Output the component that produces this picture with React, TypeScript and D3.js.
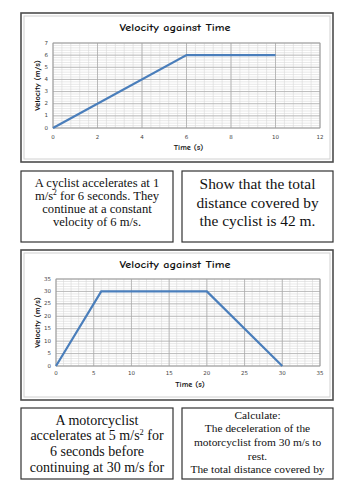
import React from "react";
import * as d3 from "d3";

// cyclist graph
const cyclistTimes = [0, 6, 10];
const cyclistVelocity = [0, 6, 6];
const cyclistXTicks = [0, 2, 4, 6, 8, 10, 12];
const cyclistYTicks = [0, 1, 2, 3, 4, 5, 6, 7];

// motorcyclist graph
const motoTimes = [0, 6, 20, 30];
const motoVelocity = [0, 30, 30, 0];
const motoXTicks = [0, 5, 10, 15, 20, 25, 30, 35];
const motoYTicks = [0, 5, 10, 15, 20, 25, 30, 35];

const chartTitle = "Velocity against Time";
const xTitle = "Time (s)";
const yTitle = "Velocity (m/s)";

const comic = "'Comic Sans MS', 'Comic Neue', 'DejaVu Sans', sans-serif";
const serif = "'Liberation Serif', 'Times New Roman', serif";

type ChartProps = {
  frame: { x: number; y: number; w: number; h: number };
  plot: { left: number; right: number; top: number; bottom: number };
  times: number[];
  velocity: number[];
  xTicks: number[];
  yTicks: number[];
  xMinor: number;
  yMinor: number;
  xMajor: number;
  titleY: number;
  xTickY: number;
  xTitleY: number;
};

function Chart(p: ChartProps) {
  const x = d3
    .scaleLinear()
    .domain([0, d3.max(p.xTicks)!])
    .range([p.plot.left, p.plot.right]);
  const y = d3
    .scaleLinear()
    .domain([0, d3.max(p.yTicks)!])
    .range([p.plot.bottom, p.plot.top]);

  const xMax = d3.max(p.xTicks)!;
  const yMax = d3.max(p.yTicks)!;
  const xMinorLines = d3.range(0, xMax + 1e-6, p.xMinor);
  const yMinorLines = d3.range(0, yMax + 1e-6, p.yMinor);
  const xMajorLines = d3.range(0, xMax + 1e-6, p.xMajor);

  const line = d3
    .line<number>()
    .x((d) => x(p.times[d]))
    .y((d) => y(p.velocity[d]));

  const cx = (p.frame.x * 2 + p.frame.w) / 2;
  const midY = (p.plot.top + p.plot.bottom) / 2;

  return (
    <g>
      <rect
        x={p.frame.x}
        y={p.frame.y}
        width={p.frame.w}
        height={p.frame.h}
        fill="#fff"
        stroke="#4d4d4d"
        strokeWidth={1.6}
      />
      <rect
        x={p.frame.x + 3}
        y={p.frame.y + 3}
        width={p.frame.w - 6}
        height={p.frame.h - 6}
        fill="none"
        stroke="#d0d0d0"
        strokeWidth={1}
      />
      <text
        x={cx - 2}
        y={p.titleY}
        textAnchor="middle"
        dominantBaseline="middle"
        fontFamily={comic}
        fontWeight="bold"
        fontSize={10}
        textLength={111}
        lengthAdjust="spacingAndGlyphs"
        fill="#111"
      >
        {chartTitle}
      </text>
      {yMinorLines.map((v, i) => (
        <line
          key={"ym" + i}
          x1={p.plot.left}
          x2={p.plot.right}
          y1={y(v)}
          y2={y(v)}
          stroke="#d6d6d6"
          strokeWidth={0.6}
        />
      ))}
      {xMinorLines.map((v, i) => (
        <line
          key={"xm" + i}
          x1={x(v)}
          x2={x(v)}
          y1={p.plot.top}
          y2={p.plot.bottom}
          stroke="#d6d6d6"
          strokeWidth={0.6}
        />
      ))}
      {p.yTicks.map((v) => (
        <line
          key={"yM" + v}
          x1={p.plot.left}
          x2={p.plot.right}
          y1={y(v)}
          y2={y(v)}
          stroke="#a8a8a8"
          strokeWidth={0.7}
        />
      ))}
      {xMajorLines.map((v) => (
        <line
          key={"xM" + v}
          x1={x(v)}
          x2={x(v)}
          y1={p.plot.top}
          y2={p.plot.bottom}
          stroke="#a8a8a8"
          strokeWidth={0.7}
        />
      ))}
      <rect
        x={p.plot.left}
        y={p.plot.top}
        width={p.plot.right - p.plot.left}
        height={p.plot.bottom - p.plot.top}
        fill="none"
        stroke="#999"
        strokeWidth={0.7}
      />
      <path
        d={line(d3.range(p.times.length)) || ""}
        fill="none"
        stroke="#4a7ebb"
        strokeWidth={2.2}
        strokeLinejoin="miter"
      />
      {p.xTicks.map((v) => (
        <text
          key={"xt" + v}
          x={x(v)}
          y={p.xTickY}
          textAnchor="middle"
          dominantBaseline="middle"
          fontFamily="'DejaVu Sans', sans-serif"
          fontSize={5.5}
          fill="#444"
        >
          {v}
        </text>
      ))}
      {p.yTicks.map((v) => (
        <text
          key={"yt" + v}
          x={p.plot.left - 5}
          y={y(v)}
          textAnchor="end"
          dominantBaseline="middle"
          fontFamily="'DejaVu Sans', sans-serif"
          fontSize={5.5}
          fill="#444"
        >
          {v}
        </text>
      ))}
      <text
        x={(p.plot.left + p.plot.right) / 2 + 2}
        y={p.xTitleY}
        textAnchor="middle"
        dominantBaseline="middle"
        fontFamily={comic}
        fontWeight="bold"
        fontSize={8.3}
        fill="#111"
      >
        {xTitle}
      </text>
      <text
        transform={`translate(38,${midY}) rotate(-90)`}
        textAnchor="middle"
        dominantBaseline="middle"
        fontFamily={comic}
        fontWeight="bold"
        fontSize={8.5}
        fill="#111"
      >
        {yTitle}
      </text>
    </g>
  );
}

type Line = { text: string; sup?: string; rest?: string };

function TextBox(props: {
  id: string;
  x: number;
  y: number;
  w: number;
  h: number;
  lines: Line[];
  firstY: number;
  lineHeight: number;
  fontSize: number;
}) {
  const cx = props.x + props.w / 2;
  const fs = props.fontSize;
  return (
    <g>
      <defs>
        <clipPath id={props.id}>
          <rect x={props.x} y={props.y} width={props.w} height={props.h} />
        </clipPath>
      </defs>
      <rect
        x={props.x}
        y={props.y}
        width={props.w}
        height={props.h}
        fill="#fff"
        stroke="#333"
        strokeWidth={1.2}
      />
      <g clipPath={`url(#${props.id})`}>
        {props.lines.map((l, i) => (
          <text
            key={i}
            x={cx}
            y={props.firstY + i * props.lineHeight + fs * 0.33}
            textAnchor="middle"
            fontFamily={serif}
            fontSize={fs}
            fill="#111"
          >
            {l.text}
            {l.sup && (
              <tspan fontSize={fs * 0.6} dy={-fs * 0.38}>
                {l.sup}
              </tspan>
            )}
            {l.rest && <tspan dy={fs * 0.38}>{l.rest}</tspan>}
          </text>
        ))}
      </g>
    </g>
  );
}

const cyclistText: Line[] = [
  { text: "A cyclist accelerates at 1" },
  { text: "m/s", sup: "2", rest: " for 6 seconds. They" },
  { text: "continue at a constant" },
  { text: "velocity of 6 m/s." },
];
const cyclistTask: Line[] = [
  { text: "Show that the total" },
  { text: "distance covered by" },
  { text: "the cyclist is 42 m." },
];
const motoText: Line[] = [
  { text: "A motorcyclist" },
  { text: "accelerates at 5 m/s", sup: "2", rest: " for" },
  { text: "6 seconds before" },
  { text: "continuing at 30 m/s for" },
];
const motoTask: Line[] = [
  { text: "Calculate:" },
  { text: "The deceleration of the" },
  { text: "motorcyclist from 30 m/s to" },
  { text: "rest." },
  { text: "The total distance covered by" },
];

export default function App() {
  return (
    <svg
      width={354}
      height={500}
      style={{ position: "absolute", left: 0, top: 0, background: "#fff" }}
    >
      <rect width={354} height={500} fill="#fff" />
      <Chart
        frame={{ x: 21, y: 13, w: 312, h: 149 }}
        plot={{ left: 53, right: 320, top: 43, bottom: 128 }}
        times={cyclistTimes}
        velocity={cyclistVelocity}
        xTicks={cyclistXTicks}
        yTicks={cyclistYTicks}
        xMinor={0.4}
        yMinor={0.2}
        xMajor={2}
        titleY={29}
        xTickY={137}
        xTitleY={148}
      />
      <TextBox
        id="b1"
        x={21}
        y={171}
        w={152}
        h={71}
        lines={cyclistText}
        firstY={183}
        lineHeight={12.8}
        fontSize={12.6}
      />
      <TextBox
        id="b2"
        x={182}
        y={171}
        w={151}
        h={71}
        lines={cyclistTask}
        firstY={184}
        lineHeight={18.5}
        fontSize={15.4}
      />
      <Chart
        frame={{ x: 21, y: 250, w: 312, h: 150 }}
        plot={{ left: 56, right: 320, top: 279, bottom: 366 }}
        times={motoTimes}
        velocity={motoVelocity}
        xTicks={motoXTicks}
        yTicks={motoYTicks}
        xMinor={1}
        yMinor={1}
        xMajor={5}
        titleY={266}
        xTickY={373}
        xTitleY={385}
      />
      <TextBox
        id="b3"
        x={21}
        y={408}
        w={152}
        h={71}
        lines={motoText}
        firstY={420}
        lineHeight={15.7}
        fontSize={14}
      />
      <TextBox
        id="b4"
        x={182}
        y={408}
        w={151}
        h={71}
        lines={motoTask}
        firstY={415}
        lineHeight={13.6}
        fontSize={11.4}
      />
    </svg>
  );
}
